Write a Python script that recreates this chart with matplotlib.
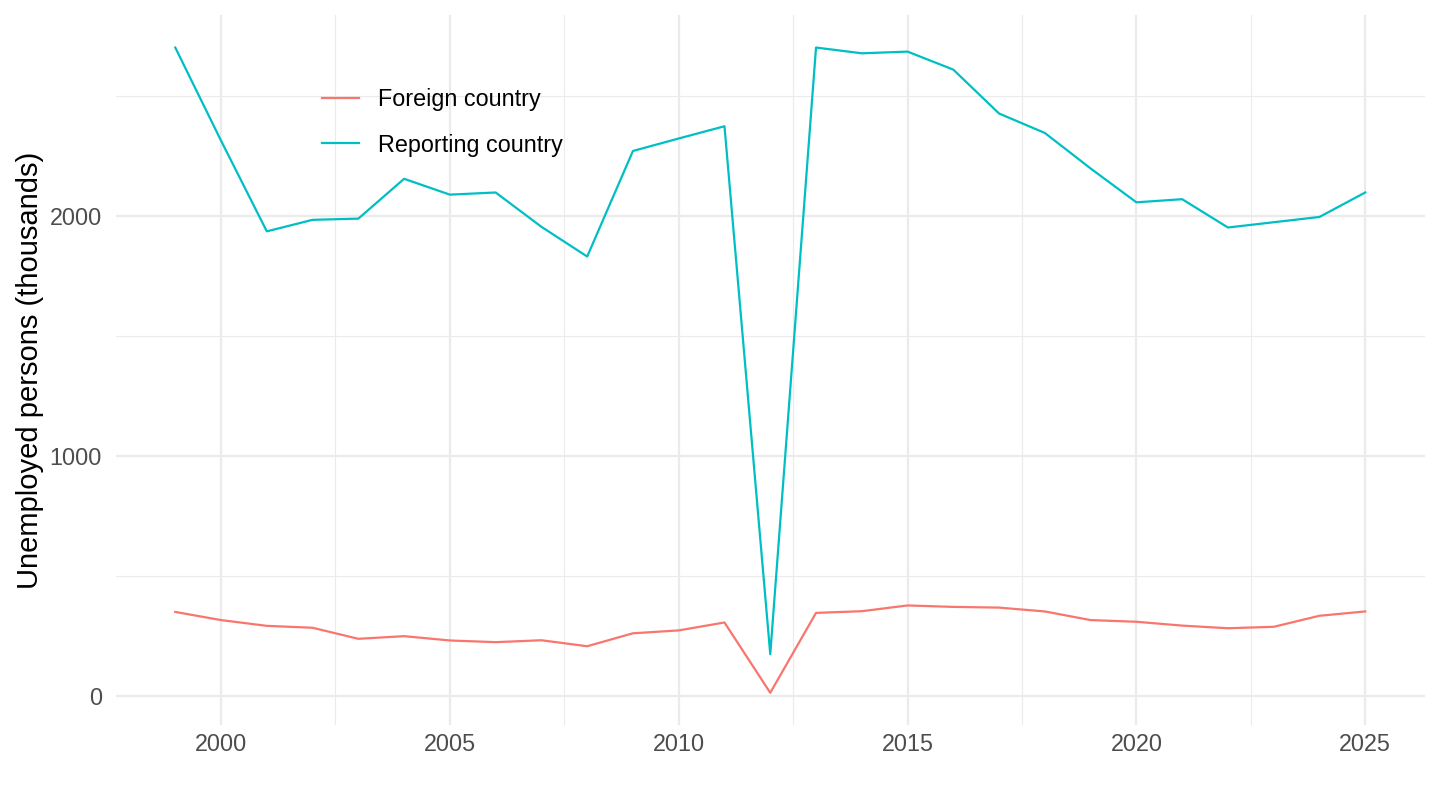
import numpy as np
import matplotlib
matplotlib.use('Agg')
import matplotlib.pyplot as plt
from matplotlib.ticker import MultipleLocator

plt.rcParams['font.family'] = ['Liberation Sans', 'DejaVu Sans']

# data (thousands of unemployed persons)
years = list(range(1999, 2026))
foreign = [351, 317, 293, 285, 239, 250, 232, 225, 233, 208, 262, 274, 307,
           14, 347, 354, 378, 372, 369, 353, 317, 310, 294, 283, 289, 335, 353]
reporting = [2703, 2315, 1937, 1985, 1990, 2156, 2090, 2099, 1956, 1832, 2272,
             2324, 2375, 175, 2703, 2679, 2686, 2611, 2428, 2347, 2199, 2058,
             2071, 1953, 1975, 1997, 2099]
series_names = ['Foreign country', 'Reporting country']
colors = ['#F8766D', '#00BFC4']

base = 21
small = base * 0.8

fig = plt.figure(figsize=(14.4, 8.1), dpi=100)
ax = fig.add_axes([0.0804, 0.105, 0.909, 0.876])

ax.plot(years, foreign, color=colors[0], linewidth=1.6, label=series_names[0])
ax.plot(years, reporting, color=colors[1], linewidth=1.6, label=series_names[1])

# ggplot-like expansion
ax.set_xlim(1997.7, 2026.3)
ax.set_ylim(-120, 2837)

ax.xaxis.set_major_locator(MultipleLocator(5))
ax.xaxis.set_minor_locator(MultipleLocator(2.5))
ax.yaxis.set_major_locator(MultipleLocator(1000))
ax.yaxis.set_minor_locator(MultipleLocator(500))

ax.grid(which='major', color='#EBEBEB', linewidth=1.6)
ax.grid(which='minor', color='#EBEBEB', linewidth=0.8)
ax.set_axisbelow(True)
for s in ax.spines.values():
    s.set_visible(False)
ax.tick_params(which='both', length=0)
ax.tick_params(axis='both', labelsize=small, labelcolor='#4D4D4D')
ax.tick_params(axis='x', pad=6)
ax.tick_params(axis='y', pad=10)

ax.set_ylabel('Unemployed persons (thousands)', fontsize=base, color='black', labelpad=4)

ax.legend(loc='upper left', bbox_to_anchor=(322 / 1440, 1 - 88 / 810),
          bbox_transform=fig.transFigure, frameon=False, borderpad=0,
          borderaxespad=0, fontsize=small, handlelength=1.6,
          handletextpad=0.8, labelspacing=0.97)

fig.savefig('out.png', dpi=100)
